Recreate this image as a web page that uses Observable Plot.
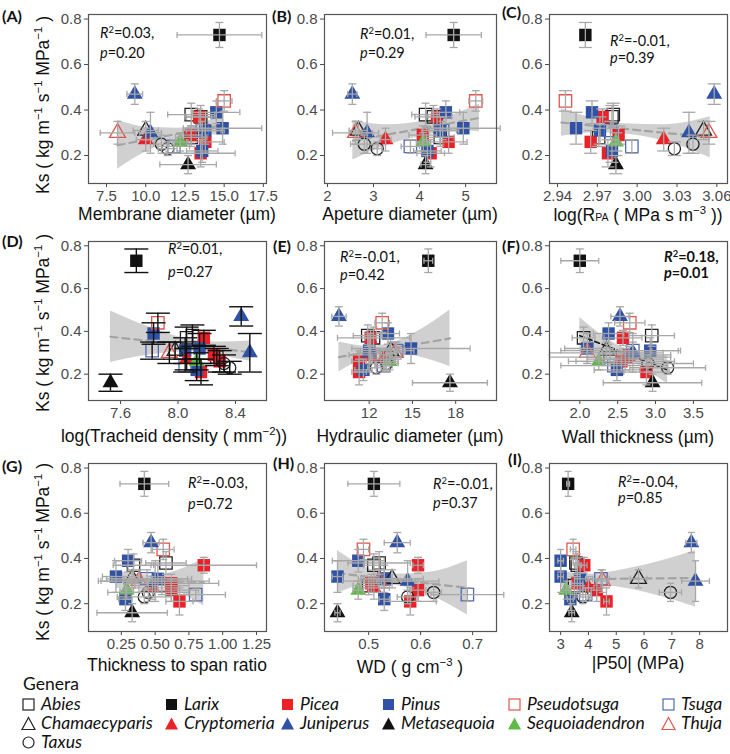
<!DOCTYPE html>
<html><head><meta charset="utf-8">
<script src="https://cdn.jsdelivr.net/npm/d3@7"></script>
<script src="https://cdn.jsdelivr.net/npm/@observablehq/plot@0.6"></script>
<style>
body{margin:0;background:#fff}
#root{position:relative;width:730px;height:754px;overflow:hidden;font-family:"Liberation Sans",Arial,sans-serif;background:#fff}
.pl{position:absolute}
.lab{position:absolute;font-family:Lato,sans-serif;font-weight:bold;font-size:16px;transform:translateY(-50%);color:#111}
.xt{position:absolute;transform:translate(-50%,-50%);white-space:nowrap;font-size:17.5px;color:#111}
.yt{position:absolute;transform:translate(-50%,-50%) rotate(-90deg);white-space:nowrap;font-size:17.5px;color:#111}
.ann{position:absolute;font-family:Lato,sans-serif;font-size:14.5px;white-space:nowrap;color:#111}
.leg{position:absolute;font-family:Lato,sans-serif;font-size:17.5px;line-height:18px;font-style:italic;white-space:nowrap;transform:translateY(-50%);color:#111}
sup{font-size:0.65em;vertical-align:0.55em;line-height:0}
</style></head><body><div id="root"></div><script>
// ---------- data ----------
const genus = ["Larix","Pseudotsuga","Juniperus","Juniperus","Thuja","Chamaecyparis","Cryptomeria","Taxus","Taxus","Tsuga","Tsuga","Sequoiadendron","Metasequoia","Abies","Abies","Abies","Picea","Picea","Picea","Picea","Pinus","Pinus","Pinus","Pinus"];
const ks    = [0.73,0.44,0.47,0.30,0.30,0.31,0.27,0.23,0.25,0.24,0.31,0.26,0.16,0.38,0.37,0.28,0.37,0.29,0.26,0.21,0.39,0.32,0.31,0.22];
const ksErr = [0.055,0.045,0.045,0.09,0.05,0.04,0.05,0.03,0.04,0.03,0.04,0.04,0.04,0.05,0.05,0.04,0.035,0.04,0.05,0.06,0.05,0.07,0.06,0.05];

const membrane    = [14.7,15.0,9.3,10.3,8.2,10.0,10.0,11.4,11.0,11.8,13.6,12.2,12.7,12.9,13.5,12.9,13.4,12.9,13.8,13.5,14.5,14.9,13.8,13.6];
const membraneErr = [2.7,0.5,0.5,0.7,1.1,0.8,0.6,0.6,0.5,1.0,1.2,0.5,1.8,1.5,1.0,1.0,0.8,0.7,1.2,2.2,1.5,2.5,1.2,1.0];
const aperture    = [4.74,5.22,2.54,2.86,2.61,2.67,3.26,3.08,2.80,3.80,4.50,4.08,4.13,4.13,4.30,4.45,4.38,4.07,4.63,4.24,4.57,4.95,4.45,4.17];
const apertureErr = [0.6,0.15,0.1,0.12,0.5,0.2,0.12,0.1,0.3,0.2,0.3,0.15,0.1,0.3,0.4,0.3,0.2,0.3,0.4,0.3,0.3,0.8,0.4,0.3];
const logRpa      = [2.961,2.946,3.058,3.039,3.054,3.050,3.020,3.028,3.042,2.996,2.980,2.984,2.984,2.982,2.981,2.971,2.974,2.986,2.965,2.978,2.966,2.954,2.972,2.981];
const logDensity  = [7.71,7.86,8.44,8.50,7.94,7.98,8.06,8.36,8.32,8.05,7.82,8.13,7.53,8.10,8.06,8.27,8.18,8.25,8.29,8.16,7.83,8.15,8.05,8.13];
const hydraulic    = [16.1,12.9,9.9,12.0,13.8,13.5,13.0,12.5,13.2,13.0,13.9,13.4,17.6,11.9,12.3,13.2,12.1,12.1,11.3,11.3,13.3,14.9,12.0,11.6];
const hydraulicErr = [0.3,0.5,0.5,0.8,0.6,1.0,0.8,0.6,0.8,0.6,1.2,0.6,2.6,1.0,2.5,1.0,0.4,1.5,0.5,0.5,0.8,4.1,0.6,0.6];
const wall    = [2.0,2.66,2.53,2.7,2.1,2.35,2.6,3.16,2.9,2.45,2.7,2.25,2.96,2.95,2.05,2.4,2.57,2.65,2.55,2.88,2.38,2.1,2.93,2.49];
const wallErr = [0.25,0.2,0.12,0.4,0.5,0.6,0.5,0.5,0.6,0.7,0.6,0.3,0.65,0.3,0.15,0.8,0.25,0.55,0.7,0.3,0.2,0.3,0.4,0.3];
const tsr    = [0.42,0.56,0.47,0.50,0.38,0.33,0.48,0.42,0.45,0.80,0.44,0.29,0.33,0.58,0.34,0.55,0.86,0.62,0.62,0.68,0.30,0.21,0.52,0.28];
const tsrErr = [0.18,0.08,0.06,0.4,0.3,0.15,0.2,0.2,0.3,0.22,0.3,0.05,0.26,0.15,0.15,0.2,0.39,0.35,0.2,0.1,0.1,0.1,0.25,0.05];
const wd    = [0.51,0.49,0.555,0.575,0.52,0.545,0.51,0.575,0.625,0.69,0.53,0.48,0.44,0.52,0.51,0.50,0.595,0.505,0.595,0.58,0.48,0.44,0.53,0.53];
const wdErr = [0.05,0.01,0.025,0.06,0.07,0.06,0.03,0.02,0.015,0.07,0.04,0.01,0.005,0.06,0.02,0.03,0.01,0.02,0.015,0.05,0.05,0.01,0.05,0.01];
const p50    = [3.27,3.45,7.7,7.85,4.5,5.8,4.0,3.8,6.95,3.9,4.45,3.2,3.4,3.55,3.6,3.5,3.85,3.6,4.3,4.65,3.0,3.0,3.7,3.35];
const p50Err = [0.05,0.1,0.2,0.5,0.2,0.3,0.2,0.3,0.4,0.2,0.3,0.1,0.1,0.1,0.1,0.3,0.1,0.2,0.2,0.1,0.1,0.1,0.2,0.1];

// confidence bands: [x, lower, upper, fitted]
const bandA = [[8.2,0.14,0.355,0.245],[10,0.215,0.325,0.269],[12,0.27,0.32,0.295],[13.5,0.29,0.34,0.315],[15,0.29,0.385,0.335]];
const bandB = [[2.55,0.18,0.355,0.265],[3.3,0.245,0.335,0.292],[4.2,0.29,0.355,0.325],[4.8,0.31,0.385,0.347],[5.3,0.305,0.425,0.365]];
const bandC = [[2.943,0.285,0.405,0.345],[2.97,0.30,0.36,0.329],[2.99,0.295,0.34,0.318],[3.02,0.265,0.335,0.30],[3.055,0.19,0.37,0.28]];
const bandD = [[7.53,0.255,0.495,0.375],[7.8,0.29,0.42,0.355],[8.1,0.305,0.36,0.333],[8.3,0.285,0.35,0.318],[8.5,0.26,0.355,0.303]];
const bandE = [[9.9,0.21,0.35,0.28],[12,0.28,0.33,0.304],[13.5,0.295,0.345,0.321],[15.5,0.28,0.405,0.343],[17.6,0.235,0.50,0.367]];
const bandF = [[2.0,0.30,0.465,0.38],[2.3,0.30,0.38,0.339],[2.6,0.275,0.32,0.297],[2.9,0.215,0.295,0.256],[3.16,0.155,0.285,0.22]];
const bandG = [[0.21,0.265,0.345,0.305],[0.35,0.28,0.33,0.303],[0.5,0.28,0.325,0.30],[0.68,0.25,0.35,0.298],[0.86,0.19,0.40,0.295]];
const bandH = [[0.44,0.245,0.435,0.335],[0.5,0.285,0.355,0.319],[0.55,0.28,0.33,0.306],[0.62,0.235,0.34,0.288],[0.69,0.15,0.39,0.27]];
const bandI = [[3.0,0.27,0.345,0.307],[4.0,0.285,0.33,0.308],[5.0,0.275,0.345,0.31],[6.5,0.235,0.385,0.312],[7.85,0.185,0.435,0.314]];

const ticksA = [7.5,10,12.5,15,17.5], ticksB = [2,3,4,5], ticksC = [2.94,2.97,3.00,3.03,3.06];
const ticksD = [7.6,8.0,8.4], ticksE = [12,15,18], ticksF = [2.0,2.5,3.0,3.5];
const ticksG = [0.25,0.5,0.75,1.0,1.25], ticksH = [0.5,0.6,0.7], ticksI = [3,4,5,6,7,8];
const ticksY = [0.2,0.4,0.6,0.8];
const stats = [["0.03","0.20"],["0.01","0.29"],["-0.01","0.39"],["0.01","0.27"],["-0.01","0.42"],["0.18","0.01"],["-0.03","0.72"],["-0.01","0.37"],["-0.04","0.85"]];

// ---------- styles ----------
const RED = "#ec2027", BLUE = "#2f52a6", GREEN = "#5fba46", ORED = "#e0564d", OBLUE = "#5069b4", BLK = "#111";
const genusStyle = {
  Abies:{shape:"square",fill:"none",stroke:"#222"},
  Larix:{shape:"square",fill:BLK,stroke:"none"},
  Picea:{shape:"square",fill:RED,stroke:"none"},
  Pinus:{shape:"square",fill:BLUE,stroke:"none"},
  Pseudotsuga:{shape:"square",fill:"none",stroke:ORED},
  Tsuga:{shape:"square",fill:"none",stroke:OBLUE},
  Chamaecyparis:{shape:"triangle",fill:"none",stroke:"#222"},
  Cryptomeria:{shape:"triangle",fill:RED,stroke:"none"},
  Juniperus:{shape:"triangle",fill:BLUE,stroke:"none"},
  Metasequoia:{shape:"triangle",fill:BLK,stroke:"none"},
  Sequoiadendron:{shape:"triangle",fill:GREEN,stroke:"none"},
  Thuja:{shape:"triangle",fill:"none",stroke:ORED},
  Taxus:{shape:"circle",fill:"none",stroke:"#222"}
};
const legendRows = [["Abies","Larix","Picea","Pinus","Pseudotsuga","Tsuga"],["Chamaecyparis","Cryptomeria","Juniperus","Metasequoia","Sequoiadendron","Thuja"],["Taxus"]];

const hcap = {draw(ctx,size){const w=Math.sqrt(size/Math.PI);ctx.moveTo(-w,0);ctx.lineTo(w,0);}};
const vcap = {draw(ctx,size){const w=Math.sqrt(size/Math.PI);ctx.moveTo(0,-w);ctx.lineTo(0,w);}};

const cols = [{left:50,width:220,ml:38,mr:4,cx:177},{left:285,width:215,ml:39,mr:4,cx:410},{left:510,width:220,ml:39,mr:3,cx:638}];
const rows = [{top:0,height:205,mt:14,mb:22},{top:226,height:196,mt:15,mb:22},{top:448,height:205,mt:15,mb:22}];

const panels = [
 {k:"A",c:0,r:0,x:membrane,xe:membraneErr,dom:[6.35,17.7],ticks:ticksA,fmt:".1f",band:bandA,cap:4,
  xl:"Membrane diameter (µm)",xly:214,lab:[2,15],ann:[100,33,20]},
 {k:"B",c:1,r:0,x:aperture,xe:apertureErr,dom:[1.935,5.67],ticks:ticksB,fmt:"d",band:bandB,cap:4,
  xl:"Apeture diameter (µm)",xly:214,lab:[272,15],ann:[360,33,19]},
 {k:"C",c:2,r:0,x:logRpa,xe:null,dom:[2.934,3.068],ticks:ticksC,fmt:".2f",band:bandC,cap:6.5,
  xl:'log(R<span style="font-size:0.6em">PA</span> ( MPa s m<sup>−3</sup> ))',xly:215,lab:[502,11],ann:[610,40,17]},
 {k:"D",c:0,r:1,x:logDensity,xe:null,dom:[7.377,8.616],ticks:ticksD,fmt:".1f",band:bandD,cap:12,black:true,
  xl:"log(Tracheid density ( mm<sup>−2</sup>))",xlx:174,xly:436,lab:[2,240],ann:[168,248,23]},
 {k:"E",c:1,r:1,x:hydraulic,xe:hydraulicErr,dom:[8.9,20.83],ticks:ticksE,fmt:"d",band:bandE,cap:4,
  xl:"Hydraulic diameter (µm)",xly:436,lab:[273,245],ann:[340,257,18]},
 {k:"F",c:2,r:1,x:wall,xe:wallErr,dom:[1.60,3.95],ticks:ticksF,fmt:".1f",band:bandF,cap:4,sig:true,
  xl:"Wall thickness (µm)",xly:437,lab:[502,245],ann:[664,257,16]},
 {k:"G",c:0,r:2,x:tsr,xe:tsrErr,dom:[0.007,1.324],ticks:ticksG,fmt:".2f",band:bandG,cap:4,
  xl:"Thickness to span ratio",xly:665,lab:[2,465],ann:[188,482,21]},
 {k:"H",c:1,r:2,x:wd,xe:wdErr,dom:[0.415,0.746],ticks:ticksH,fmt:".1f",band:bandH,cap:4,
  xl:"WD ( g cm<sup>−3</sup> )",xly:667,lab:[273,462],ann:[433,483,19]},
 {k:"I",c:2,r:2,x:p50,xe:p50Err,dom:[2.6,9.0],ticks:ticksI,fmt:"d",band:bandI,cap:3.5,
  xl:"|P50| (MPa)",xly:663,lab:[508,458],ann:[618,482,16]}
];

const root = document.getElementById("root");
function addDiv(cls, html, left, top){const d=document.createElement("div");d.className=cls;d.innerHTML=html;d.style.left=left+"px";d.style.top=top+"px";root.appendChild(d);return d;}

panels.forEach((p,pi)=>{
  const col = cols[p.c], row = rows[p.r];
  const data = genus.map((g,i)=>({genus:g, ks:ks[i], kse:ksErr[i], x:p.x[i], xe:p.xe?p.xe[i]:0}));
  const eb = p.black ? "#111" : "#a8a8a8";
  const ebw = p.black ? 1.4 : 1.3;
  const marks = [
    Plot.areaY(p.band,{x:d=>d[0],y1:d=>d[1],y2:d=>d[2],fill:"#b9b9b9",fillOpacity:0.68,curve:"monotone-x"}),
    Plot.line(p.band,{x:d=>d[0],y:d=>d[3],stroke:p.sig?"#111":"#a3a3a3",strokeWidth:p.sig?1.6:2.2,strokeDasharray:p.sig?"5,3":"7,5"})
  ];
  for (const g of Object.keys(genusStyle)) {
    const s = genusStyle[g];
    const r = s.shape==="square"?7.0:(s.shape==="triangle"?5.9:6.1);
    marks.push(Plot.dot(data.filter(d=>d.genus===g),{x:"x",y:"ks",symbol:s.shape,r,fill:s.fill,stroke:s.stroke,strokeWidth:1.3}));
  }
  if (p.xe) {
    marks.push(Plot.ruleY(data,{y:"ks",x1:d=>d.x-d.xe,x2:d=>d.x+d.xe,stroke:eb,strokeWidth:ebw}));
    marks.push(Plot.dot(data,{x:d=>d.x-d.xe,y:"ks",symbol:vcap,r:3,stroke:eb,strokeWidth:ebw}));
    marks.push(Plot.dot(data,{x:d=>d.x+d.xe,y:"ks",symbol:vcap,r:3,stroke:eb,strokeWidth:ebw}));
  }
  marks.push(Plot.ruleX(data,{x:"x",y1:d=>d.ks-d.kse,y2:d=>d.ks+d.kse,stroke:eb,strokeWidth:ebw}));
  marks.push(Plot.dot(data,{x:"x",y:d=>d.ks-d.kse,symbol:hcap,r:p.cap,stroke:eb,strokeWidth:ebw}));
  marks.push(Plot.dot(data,{x:"x",y:d=>d.ks+d.kse,symbol:hcap,r:p.cap,stroke:eb,strokeWidth:ebw}));
  marks.push(Plot.frame({stroke:"#555",strokeWidth:1.2}));

  const svg = Plot.plot({
    width: col.width, height: row.height,
    marginLeft: col.ml, marginRight: col.mr, marginTop: row.mt, marginBottom: row.mb,
    x: {domain:p.dom, ticks:p.ticks, tickFormat:d3.format(p.fmt), tickSize:4, tickPadding:3, label:null},
    y: {domain:[0.077,0.82], ticks:ticksY, tickFormat:d3.format(".1f"), tickSize:4, tickPadding:3, label:null},
    style: {fontFamily:'"Liberation Sans", Arial, sans-serif', fontSize:"15px", color:"#4a4a4a", background:"transparent", overflow:"visible"},
    marks
  });
  svg.classList.add("pl");
  svg.style.left = col.left+"px"; svg.style.top = row.top+"px";
  root.appendChild(svg);

  addDiv("lab","("+p.k+")",p.lab[0],p.lab[1]);
  addDiv("xt",p.xl,p.xlx ?? col.cx,p.xly);
  const [r2,pv] = stats[pi];
  const a = addDiv("ann",'<div style="height:'+p.ann[2]+'px;line-height:'+p.ann[2]+'px"><i>R</i><sup>2</sup>='+r2+',</div><div style="line-height:'+p.ann[2]+'px"><i>p</i>='+pv+'</div>',p.ann[0],p.ann[1]-p.ann[2]/2);
  if (p.sig) a.style.fontWeight = "bold";
  if (p.c===0) addDiv("yt","Ks ( kg m<sup>−1</sup> s<sup>−1</sup> MPa<sup>−1</sup> )",43,[105,323,552][p.r]);
});

// ---------- legend ----------
addDiv("leg",'<span style="font-style:normal">Genera</span>',23,684);
const legY = [704,723,742], legX = [28,171,287,388,514,668];
function symSvg(s){
  const st = 'fill="'+s.fill+'" stroke="'+(s.stroke==="none"?"none":s.stroke)+'" stroke-width="1.2"';
  let shape;
  if (s.shape==="square") shape='<rect x="2" y="2" width="11" height="11" '+st+'/>';
  else if (s.shape==="triangle") shape='<polygon points="7.5,1.5 14,13.5 1,13.5" '+st+'/>';
  else shape='<circle cx="7.5" cy="7.5" r="5.5" '+st+'/>';
  return '<svg width="15" height="15" style="position:absolute;left:-7.5px;top:-7.5px">'+shape+'</svg>';
}
legendRows.forEach((rowG,ri)=>rowG.forEach((g,ci)=>{
  const d = document.createElement("div");
  d.style.position="absolute"; d.style.left=legX[ci]+"px"; d.style.top=legY[ri]+"px";
  d.innerHTML = symSvg(genusStyle[g]);
  root.appendChild(d);
  addDiv("leg",g,legX[ci]+13,legY[ri]);
}));
</script></body></html>
